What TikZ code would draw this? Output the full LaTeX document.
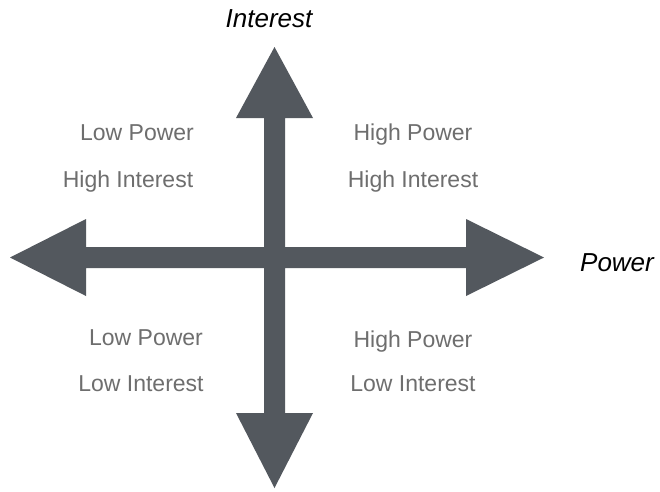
\documentclass[tikz,border=0pt]{standalone}
\usepackage{fontspec}
\setmainfont{Liberation Sans}
\definecolor{arrowgray}{HTML}{53585E}
\definecolor{labelgray}{HTML}{6E6E6E}
\begin{document}
\begin{tikzpicture}[x=1pt,y=-1pt,
  quad/.style={text=labelgray,font=\fontsize{23}{27}\selectfont,anchor=base,inner sep=0pt},
  axislabel/.style={text=black,font=\fontsize{26}{30}\selectfont\itshape,anchor=base,inner sep=0pt}]
\useasboundingbox (0,0) rectangle (660,491);
\fill[white] (0,0) rectangle (660,491);
% cross of arrows
\fill[arrowgray]
  (264,118) -- (236,118) -- (274.5,47) -- (313,118) -- (285,118)
  -- (285,247) -- (466,247) -- (466,219) -- (544,257.5) -- (466,296) -- (466,268)
  -- (285,268) -- (285,413) -- (313,413) -- (274.5,488) -- (236,413) -- (264,413)
  -- (264,268) -- (86,268) -- (86,296) -- (10,257.5) -- (86,219) -- (86,247)
  -- (264,247) -- cycle;
% axis labels
\node[axislabel] (interest) at (269,27) {Interest};
\node[axislabel] (power) at (617,271) {Power};
% quadrant labels
\node[quad] (tl1) at (137,140) {Low Power};
\node[quad] (tl2) at (128,187) {High Interest};
\node[quad] (tr1) at (413,140) {High Power};
\node[quad] (tr2) at (413,187) {High Interest};
\node[quad] (bl1) at (146,345) {Low Power};
\node[quad] (bl2) at (141,391) {Low Interest};
\node[quad] (br1) at (413,347) {High Power};
\node[quad] (br2) at (413,391) {Low Interest};
\end{tikzpicture}
\end{document}
